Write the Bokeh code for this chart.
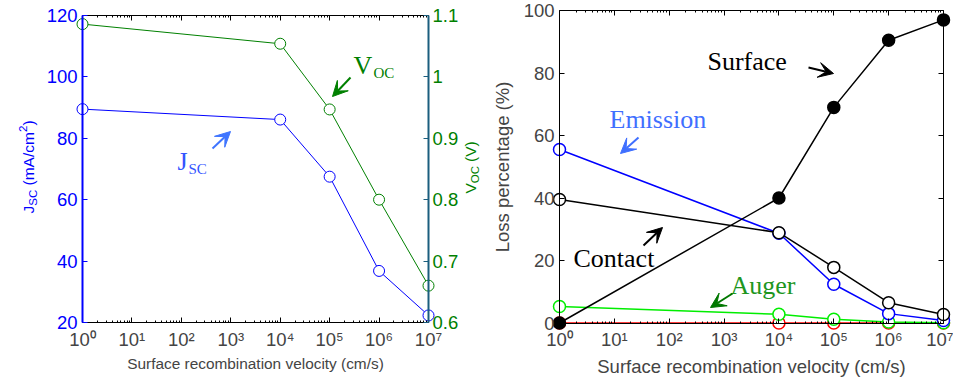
import math
from bokeh.plotting import figure
from bokeh.models import (Range1d, LinearAxis, LogAxis, FixedTicker, CustomJSTickFormatter,
                          Label, Arrow, VeeHead)
from bokeh.layouts import row
from bokeh.embed import file_html
from bokeh.resources import INLINE

# ---------------- data ----------------
velocity = [1, 1e4, 1e5, 1e6, 1e7]
jsc = [89.5, 86.1, 67.5, 36.8, 22.3]
voc = [1.086, 1.054, 0.947, 0.800, 0.660]

loss_surface = [0.0, 40.0, 69.0, 90.5, 97.0]
loss_emission = [55.5, 28.7, 12.4, 3.0, 0.8]
loss_contact = [39.5, 28.9, 17.8, 6.5, 2.7]
loss_auger = [5.3, 2.8, 1.2, 0.3, 0.1]
loss_other = [0.0, 0.0, 0.0, 0.0, 0.0]

x_ticks = [1, 10, 100, 1e3, 1e4, 1e5, 1e6, 1e7]
x_tick_labels = ["10\u2070", "10\u00b9", "10\u00b2", "10\u00b3", "10\u2074", "10\u2075", "10\u2076", "10\u2077"]
x_minor = [m * d for d in x_ticks[:-1] for m in range(2, 10)]
jsc_ticks = [20, 40, 60, 80, 100, 120]
voc_ticks = [0.6, 0.7, 0.8, 0.9, 1.0, 1.1]
loss_ticks = [0, 20, 40, 60, 80, 100]

SANS = "Liberation Sans"
SERIF = "Liberation Serif"
TICK_SIZE = "18.5px"
BASE_SHIFT = 0.27
H = 377

xfmt_code = "return labels[Math.round(Math.log10(tick))]"


def frame_ranges(width, px_left, px_right, px_top, px_bottom, x_lo, x_hi, y_lo, y_hi, log_x=True):
    """Ranges so that the whole canvas is the frame and the data box sits at the given pixels."""
    if log_x:
        a, b = math.log10(x_lo), math.log10(x_hi)
    else:
        a, b = x_lo, x_hi
    ppx = (px_right - px_left) / (b - a)
    xs, xe = a - px_left / ppx, b + (width - px_right) / ppx
    if log_x:
        xs, xe = 10 ** xs, 10 ** xe
    ppy = (px_bottom - px_top) / (y_hi - y_lo)
    ys, ye = y_lo - (H - px_bottom) / ppy, y_hi + px_top / ppy
    return Range1d(xs, xe), Range1d(ys, ye)


def style_axis(ax, color="black", size=TICK_SIZE, width=1):
    ax.major_tick_in = 5
    ax.major_tick_out = 0
    ax.minor_tick_in = 2
    ax.minor_tick_out = 0
    ax.axis_line_color = color
    ax.axis_line_width = width
    ax.major_tick_line_color = color
    ax.minor_tick_line_color = color
    ax.major_label_text_font = SANS
    ax.major_label_text_font_size = size
    ax.axis_label_text_font = SANS
    ax.axis_label_text_font_style = "normal"


def hidden_axis(kind, **kw):
    ax = kind(formatter=CustomJSTickFormatter(code="return ''"), axis_label=None, **kw)
    style_axis(ax, size="1px")
    ax.major_label_standoff = 0
    return ax


def put(p, cx, cy, text, size, color, font=SERIF, rotated=False):
    # (cx, cy): start of the text baseline, canvas pixels from the top-left corner
    if rotated:
        x, y, ang = cx - BASE_SHIFT * size, H - cy, math.pi / 2
    else:
        x, y, ang = cx, H - cy + BASE_SHIFT * size, 0.0
    p.add_layout(Label(x=x, y=y, x_units="screen", y_units="screen", text=text,
                       text_font=font, text_font_size="%gpx" % size, text_color=color,
                       angle=ang, text_baseline="alphabetic", text_align="left"))


def arrow(p, x1, y1, x2, y2, color):
    p.add_layout(Arrow(x_start=x1, y_start=H - y1, x_end=x2, y_end=H - y2,
                       start_units="screen", end_units="screen",
                       line_color=color, line_width=2,
                       end=VeeHead(size=15, fill_color=color, line_color=color)))


def base_fig(width, xr, yr):
    p = figure(width=width, height=H, x_axis_type="log", x_range=xr, y_range=yr,
               output_backend="svg", toolbar_location=None, min_border=0)
    p.title.visible = False
    p.outline_line_color = None
    p.grid.visible = False
    return p


# ---------------- left panel ----------------
xr1, yr1 = frame_ranges(480, 82, 428, 15, 322, 1, 1e7, 20, 120)
_, vr1 = frame_ranges(480, 82, 428, 15, 322, 1, 1e7, 0.6, 1.1)
p1 = base_fig(480, xr1, yr1)
p1.extra_y_ranges = {"voc": vr1}

xa = p1.xaxis[0]
xa.ticker = FixedTicker(ticks=x_ticks, minor_ticks=x_minor)
xa.formatter = CustomJSTickFormatter(args=dict(labels=x_tick_labels), code=xfmt_code)
xa.fixed_location = 20
xa.bounds = (1, 1e7)
style_axis(xa)
xa.major_label_standoff = 6
xa.axis_label = "Surface recombination velocity (cm/s)"
xa.axis_label_text_font_size = "15.4px"
xa.axis_label_standoff = 2

ya = p1.yaxis[0]
ya.ticker = FixedTicker(ticks=jsc_ticks)
ya.fixed_location = 1
ya.bounds = (20, 120)
style_axis(ya, color="#0000ff", width=2)
ya.major_label_text_color = "#0000ff"
ya.major_label_standoff = 5

ra = LinearAxis(y_range_name="voc", ticker=FixedTicker(ticks=voc_ticks),
                formatter=CustomJSTickFormatter(code="return String(Math.round(tick*10)/10)"),
                fixed_location=1e7, bounds=(0.6, 1.1))
style_axis(ra, color="#1b5e7e", width=2)
ra.major_label_text_color = "#008000"
ra.major_label_standoff = 4
p1.add_layout(ra, "right")

p1.add_layout(hidden_axis(LogAxis, ticker=FixedTicker(ticks=x_ticks, minor_ticks=x_minor),
                          fixed_location=120, bounds=(1, 1e7)), "above")

p1.line(velocity, jsc, line_color="#0000ff", line_width=1)
p1.scatter(velocity, jsc, size=11, marker="circle", line_color="#0000ff", fill_color="white", line_width=1)
p1.line(velocity, voc, line_color="#008000", line_width=1, y_range_name="voc")
p1.scatter(velocity, voc, size=11, marker="circle", line_color="#008000", fill_color="white",
           line_width=1, y_range_name="voc")

# composite left axis label: J_SC (mA/cm^2)
put(p1, 32, 213, "J", 15.5, "#0000ff", SANS, True)
put(p1, 36, 205.2, "SC", 11.5, "#0000ff", SANS, True)
put(p1, 32, 185.0, "(mA/cm", 15.5, "#0000ff", SANS, True)
put(p1, 26, 131.5, "2", 11.5, "#0000ff", SANS, True)
put(p1, 32, 125.1, ")", 15.5, "#0000ff", SANS, True)
# composite right axis label: V_OC (V)
put(p1, 474, 193, "V", 15.5, "#008000", SANS, True)
put(p1, 478, 182.7, "OC", 11.5, "#008000", SANS, True)
put(p1, 474, 161.5, "(V)", 15.5, "#008000", SANS, True)

# annotations
put(p1, 353, 72, "V", 26, "#008000")
put(p1, 373, 77, "OC", 15, "#008000")
arrow(p1, 350, 77, 332, 96, "#008000")
put(p1, 177, 168, "J", 26, "#3355ff")
put(p1, 188, 173, "SC", 15, "#3355ff")
arrow(p1, 212, 148, 230, 131, "#3f75ff")

# ---------------- right panel ----------------
xr2, yr2 = frame_ranges(473, 79, 463, 10, 322.5, 1, 1e7, 0, 100)
p2 = base_fig(473, xr2, yr2)

xb = p2.xaxis[0]
xb.ticker = FixedTicker(ticks=x_ticks, minor_ticks=x_minor)
xb.formatter = CustomJSTickFormatter(args=dict(labels=x_tick_labels), code=xfmt_code)
xb.fixed_location = 0
xb.bounds = (1, 1e7)
style_axis(xb)
xb.major_label_standoff = 6
xb.axis_label = "Surface recombination velocity (cm/s)"
xb.axis_label_text_font_size = "18.5px"
xb.axis_label_standoff = 2

yb = p2.yaxis[0]
yb.ticker = FixedTicker(ticks=loss_ticks)
yb.fixed_location = 1
yb.bounds = (0, 100)
style_axis(yb)
yb.major_label_standoff = 5
yb.axis_label = "Loss percentage (%)"
yb.axis_label_text_font_size = "18.5px"
yb.axis_label_standoff = 8

p2.add_layout(hidden_axis(LogAxis, ticker=FixedTicker(ticks=x_ticks, minor_ticks=x_minor),
                          fixed_location=100, bounds=(1, 1e7)), "above")
p2.add_layout(hidden_axis(LinearAxis, ticker=FixedTicker(ticks=loss_ticks),
                          fixed_location=1e7, bounds=(0, 100)), "right")

series = [
    (loss_other, "#ff0000", "white"),
    (loss_auger, "#00ee00", "white"),
    (loss_emission, "#0000ff", "white"),
    (loss_contact, "black", "white"),
    (loss_surface, "black", "black"),
]
for ys, lc, fc in series:
    p2.line(velocity, ys, line_color=lc, line_width=1.5)
    p2.scatter(velocity, ys, size=12, marker="circle", line_color=lc, fill_color=fc, line_width=1.5)

put(p2, 227, 68, "Surface", 26, "black")
arrow(p2, 328, 67, 353, 73, "black")
put(p2, 129, 126, "Emission", 26, "#3f6fff")
arrow(p2, 158, 137, 140, 153, "#3f6fff")
put(p2, 93, 265, "Contact", 26, "black")
arrow(p2, 163, 245, 182, 227, "black")
put(p2, 250, 292, "Auger", 26, "#1e961e")
arrow(p2, 252, 293, 230, 307, "#007800")

layout = row(p1, p2)
open("out.html", "w").write(file_html(layout, INLINE))
